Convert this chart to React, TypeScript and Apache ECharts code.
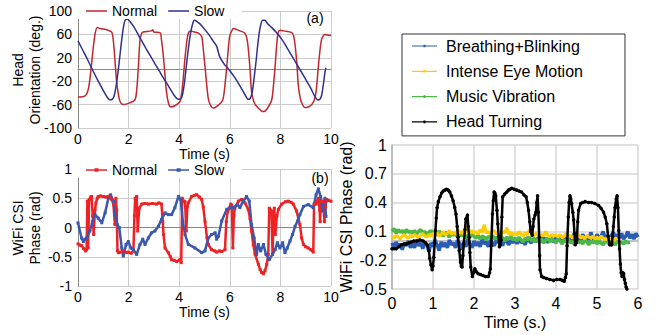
import React, { useEffect, useRef } from 'react';
import * as echarts from 'echarts';

const FONT = '"Liberation Sans", Arial, Helvetica, sans-serif';

// ---- tick labels ----
const headTicks = ['-100', '-60', '-20', '20', '60', '100'];
const rightTicks = ['-0.5', '-0.2', '0.1', '0.4', '0.7', '1'];

// ---- (a) Head orientation (deg.) [time s, value] ----
const headNormal: [number, number][] = [
  [0, -47], [0.28, -45], [0.41, -33], [0.5, -5], [0.6, 36], [0.68, 62], [0.76, 72], [0.87, 70], [1.13, 68], [1.33, 64],
  [1.4, 48], [1.47, 10], [1.53, -22], [1.62, -48], [1.69, -57], [1.8, -60], [2.05, -57], [2.25, -52], [2.32, -35], [2.38, 0],
  [2.45, 50], [2.52, 62], [2.58, 64], [2.9, 66], [2.95, 68], [3.0, 64], [3.24, 63], [3.3, 50], [3.37, 25], [3.5, -39],
  [3.58, -58], [3.66, -64], [3.83, -62], [4.03, -55], [4.1, -40], [4.16, -15], [4.23, 20], [4.3, 48], [4.36, 62], [4.43, 66],
  [4.6, 64], [4.76, 62], [4.89, 56], [4.95, 35], [5.02, 5], [5.15, -50], [5.25, -62], [5.35, -66], [5.55, -61], [5.72, -52],
  [5.8, -30], [5.88, 5], [5.95, 40], [6.0, 58], [6.1, 68], [6.14, 70], [6.4, 66], [6.6, 62], [6.68, 52], [6.73, 36],
  [6.8, 0], [6.86, -38], [6.95, -55], [7.06, -63], [7.26, -71], [7.35, -72], [7.46, -68], [7.65, -53], [7.72, -30], [7.79, 5],
  [7.86, 45], [7.92, 64], [8.0, 67], [8.12, 66], [8.45, 63], [8.52, 58], [8.58, 42], [8.65, 10], [8.71, -28], [8.78, -48],
  [8.84, -57], [8.97, -65], [9.1, -64], [9.24, -60], [9.37, -48], [9.44, -25], [9.5, 5], [9.57, 35], [9.63, 52], [9.7, 58],
  [9.76, 60], [9.85, 59], [10, 58],
];
const headSlow: [number, number][] = [
  [0, 49], [0.2, 32], [0.4, 15], [0.6, -3], [0.8, -20], [1.0, -36], [1.15, -47], [1.26, -52], [1.35, -51], [1.42, -46],
  [1.5, -30], [1.58, -5], [1.66, 25], [1.74, 55], [1.82, 78], [1.9, 86], [1.96, 86], [2.05, 82], [2.19, 74], [2.35, 62],
  [2.45, 54], [2.7, 35], [3.0, 13], [3.3, -9], [3.6, -30], [3.8, -44], [3.97, -51], [4.06, -50], [4.12, -45], [4.2, -25],
  [4.28, 5], [4.36, 35], [4.45, 62], [4.53, 78], [4.6, 84], [4.7, 82], [4.82, 78], [5.0, 69], [5.2, 58], [5.35, 48],
  [5.48, 40], [5.6, 22], [5.8, 8], [6.0, -2], [6.2, -14], [6.4, -28], [6.6, -43], [6.73, -51], [6.8, -50], [6.88, -40],
  [6.96, -15], [7.04, 15], [7.12, 48], [7.2, 72], [7.3, 84], [7.38, 84], [7.5, 78], [7.65, 72], [7.85, 63], [8.05, 52],
  [8.25, 38], [8.5, 20], [8.77, 0], [9.0, -17], [9.2, -32], [9.35, -45], [9.48, -52], [9.56, -51], [9.63, -44], [9.7, -25],
  [9.76, -5], [9.8, 3],
];

// ---- (b) WiFi CSI phase (rad) [time s, value] ----
const csiNormal: [number, number][] = [
  [0, -0.28], [0.07, -0.3], [0.14, -0.31], [0.22, -0.36], [0.3, -0.4], [0.34, -0.38], [0.37, 0.45], [0.4, -0.35], [0.44, 0.48], [0.5, 0.52],
  [0.54, 0.53], [0.58, 0.2], [0.62, -0.12], [0.67, 0.3], [0.71, 0.42], [0.76, 0.5], [0.8, 0.53], [0.9, 0.54], [1.0, 0.53], [1.1, 0.52],
  [1.2, 0.53], [1.26, 0.54], [1.33, 0.48], [1.4, 0.4], [1.46, 0.05], [1.5, 0.5], [1.53, 0.3], [1.56, -0.4], [1.6, -0.43], [1.7, -0.42],
  [1.79, -0.4], [1.9, -0.43], [1.99, -0.42], [2.1, -0.44], [2.19, -0.4], [2.23, 0.2], [2.26, 0.5], [2.32, 0.53], [2.36, -0.06], [2.42, 0.33],
  [2.52, 0.4], [2.65, 0.41], [2.78, 0.4], [2.95, 0.41], [3.1, 0.4], [3.2, 0.42], [3.3, 0.4], [3.35, 0.1], [3.38, -0.12], [3.44, -0.35],
  [3.57, -0.43], [3.65, -0.5], [3.7, -0.55], [3.8, -0.56], [3.9, -0.58], [4.03, -0.55], [4.08, -0.6], [4.12, 0.5], [4.18, 0.45], [4.23, 0.44],
  [4.28, -0.06], [4.32, 0.35], [4.36, 0.42], [4.49, 0.53], [4.6, 0.55], [4.69, 0.56], [4.8, 0.52], [4.89, 0.48], [4.95, 0.35], [5.02, 0.1],
  [5.1, -0.18], [5.15, -0.29], [5.28, -0.38], [5.4, -0.4], [5.48, -0.42], [5.6, -0.4], [5.68, -0.41], [5.81, -0.38], [5.86, 0.1], [5.92, 0.28],
  [5.98, 0.33], [6.04, 0.4], [6.08, 0.38], [6.12, -0.35], [6.16, 0.2], [6.2, 0.33], [6.34, 0.45], [6.47, 0.48], [6.6, 0.42], [6.73, 0.31],
  [6.8, 0.15], [6.86, -0.06], [6.93, -0.3], [7.0, -0.46], [7.13, -0.63], [7.2, -0.72], [7.26, -0.77], [7.33, -0.79], [7.39, -0.74], [7.46, -0.63],
  [7.52, -0.46], [7.56, 0.33], [7.6, 0.3], [7.65, 0.28], [7.69, -0.46], [7.73, 0.2], [7.76, 0.33], [7.8, -0.12], [7.86, 0.2], [7.92, 0.31],
  [8.05, 0.4], [8.2, 0.44], [8.31, 0.45], [8.42, 0.43], [8.51, 0.4], [8.64, 0.28], [8.77, 0.05], [8.84, -0.18], [8.91, -0.29], [9.0, -0.33],
  [9.1, -0.35], [9.2, -0.38], [9.3, -0.42], [9.33, 0.4], [9.41, 0.4], [9.45, 0.45], [9.5, 0.5], [9.55, 0.3], [9.57, 0.1], [9.6, 0.45],
  [9.66, 0.45], [9.7, 0.44], [9.74, 0.1], [9.78, 0.35], [9.83, 0.48], [9.9, 0.46], [10, 0.45],
];
const csiSlow: [number, number][] = [
  [0, 0.08], [0.14, -0.18], [0.21, -0.24], [0.27, -0.2], [0.34, -0.18], [0.47, -0.06], [0.57, 0.1], [0.67, 0.22], [0.8, 0.16], [0.94, 0.08],
  [1.07, 0.25], [1.2, 0.5], [1.29, 0.56], [1.4, 0.45], [1.46, 0.22], [1.55, 0.05], [1.63, 0], [1.73, -0.35], [1.79, -0.49], [1.9, -0.29],
  [1.99, -0.24], [2.09, -0.35], [2.19, -0.38], [2.32, -0.46], [2.45, -0.29], [2.56, -0.2], [2.65, -0.29], [2.78, -0.18], [2.91, -0.09], [3.04, -0.06],
  [3.18, 0.02], [3.3, 0.14], [3.44, 0.25], [3.57, 0.22], [3.7, 0.22], [3.83, 0.34], [3.97, 0.53], [4.06, 0.48], [4.14, 0.11], [4.23, -0.12],
  [4.36, -0.29], [4.62, -0.35], [4.89, -0.43], [5.02, -0.4], [5.15, -0.18], [5.28, -0.12], [5.42, -0.09], [5.48, -0.2], [5.55, -0.15], [5.68, 0.11],
  [5.88, 0.31], [6.01, 0.34], [6.14, 0.34], [6.3, 0.39], [6.4, 0.34], [6.53, 0.45], [6.66, 0.53], [6.77, 0.45], [6.86, 0.05], [6.96, -0.18],
  [7.06, -0.46], [7.13, -0.29], [7.22, -0.4], [7.33, -0.29], [7.43, -0.46], [7.56, -0.55], [7.69, -0.46], [7.79, -0.38], [7.88, -0.26], [7.98, -0.35],
  [8.09, -0.26], [8.18, -0.43], [8.27, -0.35], [8.38, -0.23], [8.48, -0.12], [8.58, 0.02], [8.68, 0.11], [8.77, 0.22], [8.91, 0.36], [9.1, 0.39],
  [9.3, 0.34], [9.41, 0.56], [9.5, 0.66], [9.59, 0.53], [9.67, 0.28], [9.76, 0.5], [9.8, 0.19],
];

// ---- right: WiFi CSI phase (rad), sampled every noiseStep seconds ----
const noiseStep = 0.05;
const breathingBlinking = [
  -0.02, -0.08, -0.01, -0.06, -0.03, -0.09, -0.02, -0.05, 0.0, -0.07,
  -0.03, -0.07, 0.01, -0.05, -0.02, -0.08, -0.01, -0.04, -0.11, -0.02,
  -0.06, 0.01, -0.04, -0.1, -0.01, -0.06, -0.02, -0.07, 0.01, -0.04,
  -0.02, -0.07, 0.01, -0.03, -0.09, -0.01, -0.06, 0.02, -0.03, -0.07,
  0.0, -0.05, -0.01, -0.06, 0.02, -0.03, -0.01, -0.06, 0.01, -0.02,
  -0.05, 0.02, -0.02, 0.0, -0.05, 0.03, -0.01, -0.04, 0.02, -0.02,
  0.02, -0.03, 0.03, -0.02, 0.0, -0.04, 0.04, 0.0, -0.02, 0.03,
  -0.01, 0.03, -0.02, 0.05, 0.0, 0.03, -0.02, 0.05, 0.01, -0.01,
  0.05, 0.0, 0.06, 0.01, 0.04, -0.01, 0.06, 0.02, 0.0, 0.08,
  0.02, 0.05, 0.0, 0.07, 0.02, 0.05, 0.01, 0.09, 0.03, 0.01,
  0.07, 0.02, 0.05, 0.1, 0.03, 0.06, 0.01, 0.06, 0.09, 0.02,
  0.07, 0.03, 0.08, 0.02, 0.05, 0.1, 0.03, 0.07, 0.02, 0.08,
  0.04,
];
const intenseEye = [
  0.05, 0.03, 0.06, 0.04, 0.02, 0.05, 0.07, 0.04, 0.03, 0.06,
  0.04, 0.07, 0.05, 0.03, 0.06, 0.08, 0.05, 0.04, 0.07, 0.05,
  0.08, 0.06, 0.09, 0.05, 0.07, 0.1, 0.06, 0.08, 0.11, 0.07,
  0.09, 0.07, 0.12, 0.08, 0.1, 0.07, 0.09, 0.15, 0.08, 0.11,
  0.08, 0.1, 0.07, 0.12, 0.09, 0.17, 0.08, 0.1, 0.07, 0.09,
  0.11, 0.07, 0.09, 0.06, 0.1, 0.08, 0.14, 0.07, 0.09, 0.06,
  0.08, 0.06, 0.1, 0.07, 0.05, 0.09, 0.06, 0.12, 0.07, 0.05,
  0.08, 0.06, 0.04, 0.07, 0.05, 0.1, 0.06, 0.04, 0.07, 0.05,
  0.06, 0.04, 0.07, 0.03, 0.05, 0.08, 0.04, 0.06, 0.03, 0.05,
  0.04, 0.07, 0.03, 0.05, 0.02, 0.06, 0.04, 0.03, 0.05, 0.02,
  0.04, 0.02, 0.05, 0.03, 0.01, 0.04, 0.02, 0.03, 0.01, 0.03,
  0.02,
];
const musicVibration = [
  0.1, 0.13, 0.08, 0.12, 0.09, 0.11, 0.07, 0.12, 0.09, 0.1,
  0.08, 0.11, 0.07, 0.1, 0.12, 0.08, 0.1, 0.06, 0.09, 0.11,
  0.07, 0.09, 0.06, 0.1, 0.08, 0.05, 0.09, 0.07, 0.04, 0.08,
  0.06, 0.08, 0.04, 0.07, 0.05, 0.08, 0.03, 0.06, 0.04, 0.07,
  0.05, 0.03, 0.06, 0.02, 0.05, 0.04, 0.01, 0.05, 0.03, 0.06,
  0.02, 0.04, 0.01, 0.05, 0.03, 0.0, 0.04, 0.02, 0.05, 0.01,
  0.03, 0.0, 0.04, 0.01, -0.01, 0.03, 0.01, 0.04, 0.0, 0.02,
  -0.01, 0.03, 0.0, 0.02, -0.02, 0.01, 0.03, -0.01, 0.02, 0.0,
  -0.02, 0.02, 0.0, -0.03, 0.01, -0.01, 0.02, -0.02, 0.0, -0.04,
  0.01, -0.02, 0.0, -0.03, 0.01, -0.01, -0.04, 0.0, -0.02, 0.01,
  -0.03, 0.0, -0.02, -0.04, 0.0, -0.01, -0.03, 0.01, -0.02, -0.04,
  0.0, -0.02, -0.01, -0.03, 0.0, -0.02, -0.01,
];
const headTurning: [number, number][] = [
  [0, -0.08], [0.05, -0.08], [0.1, -0.08], [0.17, -0.06], [0.23, -0.04], [0.3, -0.03], [0.35, -0.03], [0.41, -0.02], [0.47, -0.01], [0.53, 0],
  [0.6, 0], [0.68, 0.01], [0.76, 0], [0.82, -0.02], [0.86, -0.04], [0.9, -0.1], [0.92, -0.18], [0.95, -0.25], [0.98, -0.3], [1.0, -0.26],
  [1.02, -0.17], [1.04, -0.02], [1.06, 0.11], [1.08, 0.24], [1.1, 0.35], [1.13, 0.41], [1.17, 0.46], [1.21, 0.5], [1.25, 0.52], [1.29, 0.53],
  [1.33, 0.54], [1.37, 0.53], [1.41, 0.51], [1.45, 0.47], [1.49, 0.42], [1.53, 0.35], [1.56, 0.28], [1.59, 0.15], [1.61, 0.04], [1.64, -0.1],
  [1.67, -0.22], [1.69, -0.26], [1.71, -0.27], [1.73, -0.15], [1.75, -0.03], [1.78, 0.12], [1.8, 0.23], [1.84, 0.27], [1.86, 0.15], [1.88, 0.04],
  [1.9, -0.12], [1.92, -0.27], [1.96, -0.37], [1.99, -0.33], [2.02, -0.29], [2.06, -0.32], [2.1, -0.34], [2.16, -0.35], [2.22, -0.36], [2.28, -0.37],
  [2.35, -0.37], [2.38, -0.33], [2.4, -0.29], [2.42, -0.05], [2.45, 0.28], [2.47, 0.42], [2.49, 0.51], [2.51, 0.5], [2.53, 0.47], [2.56, 0.32],
  [2.58, 0.18], [2.6, 0.05], [2.62, -0.06], [2.64, -0.04], [2.66, 0.01], [2.68, 0.25], [2.7, 0.46], [2.75, 0.49], [2.8, 0.51], [2.84, 0.53],
  [2.88, 0.54], [2.92, 0.55], [2.98, 0.54], [3.04, 0.53], [3.1, 0.52], [3.16, 0.51], [3.22, 0.48], [3.27, 0.46], [3.3, 0.4], [3.33, 0.32],
  [3.36, 0.2], [3.38, 0.1], [3.42, 0.06], [3.44, 0.15], [3.46, 0.23], [3.49, 0.27], [3.51, 0.3], [3.53, 0.4], [3.55, 0.47], [3.57, 0.3],
  [3.59, 0.04], [3.6, -0.15], [3.61, -0.3], [3.65, -0.37], [3.7, -0.38], [3.77, -0.39], [3.85, -0.4], [3.94, -0.41], [4.02, -0.4], [4.1, -0.4],
  [4.15, -0.41], [4.2, -0.42], [4.23, -0.38], [4.25, -0.34], [4.27, -0.05], [4.3, 0.25], [4.32, 0.4], [4.34, 0.47], [4.36, 0.44], [4.38, 0.39],
  [4.41, 0.3], [4.43, 0.22], [4.45, 0.08], [4.47, -0.04], [4.49, -0.02], [4.51, 0.01], [4.53, 0.2], [4.55, 0.32], [4.6, 0.39], [4.65, 0.4],
  [4.71, 0.41], [4.8, 0.4], [4.87, 0.4], [4.95, 0.39], [5.04, 0.37], [5.1, 0.34], [5.16, 0.3], [5.2, 0.25], [5.24, 0.18], [5.27, 0.05],
  [5.31, -0.04], [5.34, -0.04], [5.36, -0.04], [5.38, 0.05], [5.4, 0.15], [5.42, 0.25], [5.44, 0.35], [5.47, 0.44], [5.49, 0.47], [5.51, 0.35],
  [5.53, 0.11], [5.55, -0.08], [5.57, -0.24], [5.59, -0.33], [5.61, -0.37], [5.63, -0.33], [5.65, -0.34], [5.67, -0.4], [5.69, -0.44], [5.71, -0.48],
  [5.73, -0.5],
];

const RED_A = '#c1272d';
const NAVY_A = '#2e3192';
const RED_B = '#ee2224';
const BLUE_B = '#3a58b0';
const C_BLUE = '#2a5bb5';
const C_YELLOW = '#ffcc00';
const C_GREEN = '#4cb848';

const ICON_A = 'path://M0,0 L21,0 L21,1.5 L0,1.5 Z';
const ICON_B = 'path://M0,1 L21,1 L21,2.5 L0,2.5 Z M8.5,0 L12.5,0 L12.5,3.5 L8.5,3.5 Z';
const ICON_R = 'path://M0,0.7 L25,0.7 L25,1.9 L0,1.9 Z M11.5,0 L13.5,0 L13.5,2.6 L11.5,2.6 Z';

const sampled = (vals: number[]) => vals.map((v, i) => [i * noiseStep, v]);

export default function App() {
  const ref = useRef<HTMLDivElement>(null);
  useEffect(() => {
    if (!ref.current) return;
    const chart = echarts.init(ref.current, null, { renderer: 'svg' });
    const txt = (size: number) => ({ fontSize: size, color: '#000', fontFamily: FONT });
    const leftSplit = { show: true, lineStyle: { color: '#cccccc', width: 1 } };
    const leftLine = { show: true, lineStyle: { color: '#888888', width: 1 } };
    const rightSplit = { show: true, lineStyle: { color: '#d6d6d6', width: 1.5 } };
    const rightLine = { show: true, lineStyle: { color: '#b0b0b0', width: 1.5 } };
    const hiddenY = {
      type: 'value', position: 'left',
      axisLabel: { show: false }, axisLine: { show: false }, axisTick: { show: false }, splitLine: { show: false },
    };

    const option: any = {
      animation: false,
      backgroundColor: '#fff',
      textStyle: { fontFamily: FONT },
      grid: [
        { left: 78, top: 11, width: 253, height: 117 },
        { left: 78, top: 169, width: 253, height: 117 },
        { left: 392, top: 145, width: 246, height: 144 },
      ],
      xAxis: [
        {
          gridIndex: 0, type: 'value', min: 0, max: 10, interval: 2,
          name: 'Time (s)', nameLocation: 'middle', nameGap: 17, nameTextStyle: txt(14),
          axisLine: leftLine, axisTick: { show: false }, axisLabel: { ...txt(14), margin: 4 }, splitLine: leftSplit,
        },
        {
          gridIndex: 1, type: 'value', min: 0, max: 10, interval: 2,
          name: 'Time (s)', nameLocation: 'middle', nameGap: 18, nameTextStyle: txt(14),
          axisLine: leftLine, axisTick: { show: false }, axisLabel: { ...txt(14), margin: 4 }, splitLine: leftSplit,
        },
        {
          gridIndex: 2, type: 'value', min: 0, max: 6, interval: 1,
          name: 'Time (s.)', nameLocation: 'middle', nameGap: 25, nameTextStyle: txt(16),
          axisLine: rightLine, axisTick: { show: false }, axisLabel: { ...txt(16), margin: 6 }, splitLine: rightSplit,
        },
      ],
      yAxis: [
        { ...hiddenY, gridIndex: 0, min: -100, max: 100 },
        {
          gridIndex: 0, type: 'value', position: 'left', min: 0, max: 200, interval: 40,
          axisLine: leftLine, axisTick: { show: false }, splitLine: leftSplit,
          axisLabel: { ...txt(14), margin: 6, formatter: (v: number) => headTicks[Math.round(v / 40)] ?? '' },
        },
        {
          gridIndex: 1, type: 'value', position: 'left', min: -1, max: 1, interval: 0.5,
          axisLine: leftLine, axisTick: { show: false }, splitLine: leftSplit,
          axisLabel: { ...txt(14), margin: 6 },
        },
        { ...hiddenY, gridIndex: 2, min: -0.5, max: 1 },
        {
          gridIndex: 2, type: 'value', position: 'left', min: 0, max: 1.5, interval: 0.3,
          axisLine: rightLine, axisTick: { show: false }, splitLine: rightSplit,
          axisLabel: { ...txt(16), margin: 5, formatter: (v: number) => rightTicks[Math.round(v / 0.3)] ?? '' },
        },
      ],
      legend: [
        {
          left: 78, top: 3, padding: [1, 17, 1, 8], itemWidth: 21, itemHeight: 12, itemGap: 11,
          backgroundColor: '#fff', selectedMode: false, textStyle: txt(14),
          data: [
            { name: 'Normal', icon: ICON_A, itemStyle: { color: RED_A } },
            { name: 'Slow', icon: ICON_A, itemStyle: { color: NAVY_A } },
          ],
        },
        {
          left: 78, top: 162, padding: [1, 17, 1, 8], itemWidth: 21, itemHeight: 12, itemGap: 11,
          backgroundColor: '#fff', selectedMode: false, textStyle: txt(14),
          data: [
            { name: 'Normal', icon: ICON_B, itemStyle: { color: RED_B } },
            { name: 'Slow', icon: ICON_B, itemStyle: { color: BLUE_B } },
          ],
        },
        {
          left: 402, top: 34, orient: 'vertical', padding: [4, 42, 6, 10], itemWidth: 25, itemHeight: 16, itemGap: 9.3,
          borderColor: '#333', borderWidth: 1, backgroundColor: '#fff', selectedMode: false,
          textStyle: { ...txt(16), padding: [0, 0, 0, 4] },
          data: [
            { name: 'Breathing+Blinking', icon: ICON_R, itemStyle: { color: C_BLUE } },
            { name: 'Intense Eye Motion', icon: ICON_R, itemStyle: { color: C_YELLOW } },
            { name: 'Music Vibration', icon: ICON_R, itemStyle: { color: C_GREEN } },
            { name: 'Head Turning', icon: ICON_R, itemStyle: { color: '#000' } },
          ],
        },
      ],
      graphic: [
        { type: 'text', x: 26.5, y: 70, rotation: Math.PI / 2, style: { text: 'Head\nOrientation (deg.)', fontSize: 14, fontFamily: FONT, lineHeight: 17, fill: '#000', align: 'center', verticalAlign: 'middle' } },
        { type: 'text', x: 26.5, y: 228, rotation: Math.PI / 2, style: { text: 'WiFi CSI\nPhase (rad)', fontSize: 14, fontFamily: FONT, lineHeight: 17, fill: '#000', align: 'center', verticalAlign: 'middle' } },
        { type: 'text', x: 346, y: 217, rotation: Math.PI / 2, style: { text: 'WiFi CSI Phase (rad)', fontSize: 16, fontFamily: FONT, fill: '#000', align: 'center', verticalAlign: 'middle' } },
        { type: 'text', x: 315, y: 18, style: { text: '(a)', fontSize: 14, fontFamily: FONT, fill: '#000', align: 'center', verticalAlign: 'middle' } },
        { type: 'text', x: 320, y: 178, style: { text: '(b)', fontSize: 14, fontFamily: FONT, fill: '#000', align: 'center', verticalAlign: 'middle' } },
      ],
      series: [
        { name: 'Normal', type: 'line', xAxisIndex: 0, yAxisIndex: 0, data: headNormal, symbol: 'none', smooth: 0.3, lineStyle: { color: RED_A, width: 1.5 }, itemStyle: { color: RED_A } },
        { name: 'Slow', type: 'line', xAxisIndex: 0, yAxisIndex: 0, data: headSlow, symbol: 'none', smooth: 0.3, lineStyle: { color: NAVY_A, width: 1.5 }, itemStyle: { color: NAVY_A } },
        { name: 'Normal', type: 'line', xAxisIndex: 1, yAxisIndex: 2, data: csiNormal, symbol: 'rect', symbolSize: 3, lineStyle: { color: RED_B, width: 2.5 }, itemStyle: { color: RED_B } },
        { name: 'Slow', type: 'line', xAxisIndex: 1, yAxisIndex: 2, data: csiSlow, symbol: 'rect', symbolSize: 3, lineStyle: { color: BLUE_B, width: 2.5 }, itemStyle: { color: BLUE_B } },
        { name: 'Breathing+Blinking', type: 'line', xAxisIndex: 2, yAxisIndex: 3, data: sampled(breathingBlinking), symbol: 'none', lineStyle: { color: C_BLUE, width: 3.5 }, itemStyle: { color: C_BLUE } },
        { name: 'Music Vibration', type: 'line', xAxisIndex: 2, yAxisIndex: 3, data: sampled(musicVibration), symbol: 'none', lineStyle: { color: C_GREEN, width: 3.5 }, itemStyle: { color: C_GREEN } },
        { name: 'Intense Eye Motion', type: 'line', xAxisIndex: 2, yAxisIndex: 3, data: sampled(intenseEye), symbol: 'none', lineStyle: { color: C_YELLOW, width: 3 }, itemStyle: { color: C_YELLOW } },
        { name: 'Head Turning', type: 'line', xAxisIndex: 2, yAxisIndex: 3, data: headTurning, symbol: 'circle', symbolSize: 3.5, lineStyle: { color: '#000', width: 2.5 }, itemStyle: { color: '#000' } },
      ],
    };
    chart.setOption(option);
    return () => chart.dispose();
  }, []);
  return <div ref={ref} style={{ position: 'absolute', left: 0, top: 0, width: 655, height: 335 }} />;
}
